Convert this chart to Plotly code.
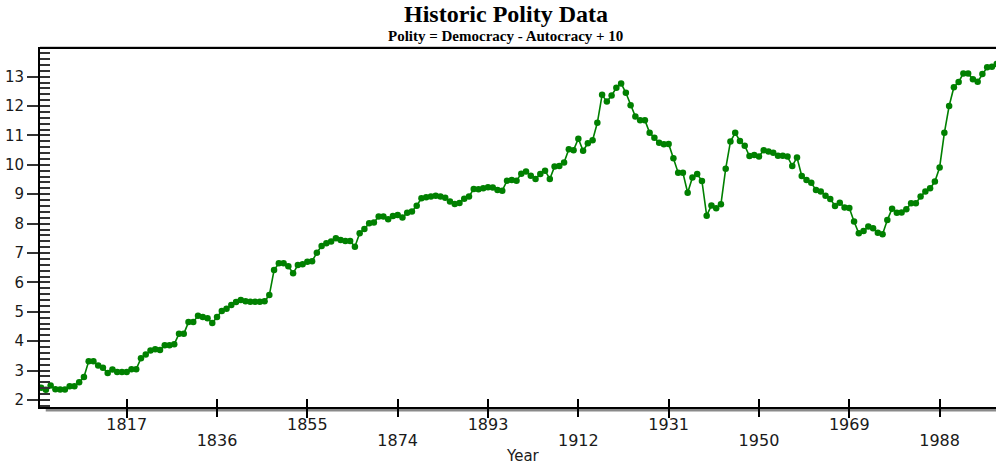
import plotly.graph_objects as go

# Annual polity index (democracy - autocracy + 10), 1799-2000
years = list(range(1799, 2001))
polity = (
    [2.42]
    + [2.35, 2.49, 2.37, 2.36, 2.36, 2.47, 2.47, 2.60, 2.78, 3.32]      # 1800s
    + [3.32, 3.17, 3.10, 2.92, 3.04, 2.95, 2.95, 2.95, 3.05, 3.05]      # 1810s
    + [3.42, 3.55, 3.68, 3.73, 3.70, 3.86, 3.86, 3.90, 4.25, 4.25]      # 1820s
    + [4.65, 4.65, 4.87, 4.82, 4.78, 4.62, 4.82, 5.03, 5.10, 5.23]      # 1830s
    + [5.33, 5.40, 5.36, 5.34, 5.34, 5.34, 5.36, 5.57, 6.42, 6.65]      # 1840s
    + [6.65, 6.55, 6.31, 6.59, 6.62, 6.70, 6.72, 7.01, 7.24, 7.33]      # 1850s
    + [7.39, 7.50, 7.44, 7.41, 7.41, 7.21, 7.67, 7.82, 8.01, 8.04]      # 1860s
    + [8.24, 8.24, 8.15, 8.26, 8.29, 8.21, 8.37, 8.41, 8.61, 8.86]      # 1870s
    + [8.90, 8.92, 8.95, 8.92, 8.88, 8.75, 8.67, 8.70, 8.85, 8.92]      # 1880s
    + [9.18, 9.17, 9.20, 9.24, 9.23, 9.14, 9.12, 9.46, 9.48, 9.46]      # 1890s
    + [9.70, 9.77, 9.63, 9.52, 9.69, 9.80, 9.52, 9.94, 9.96, 10.08]     # 1900s
    + [10.53, 10.50, 10.89, 10.48, 10.73, 10.84, 11.43, 12.38, 12.15, 12.36]  # 1910s
    + [12.62, 12.77, 12.45, 12.03, 11.64, 11.52, 11.52, 11.09, 10.92, 10.75]  # 1920s
    + [10.70, 10.71, 10.22, 9.73, 9.73, 9.05, 9.57, 9.69, 9.45, 8.27]   # 1930s
    + [8.62, 8.52, 8.66, 9.87, 10.79, 11.09, 10.81, 10.65, 10.30, 10.33]  # 1940s
    + [10.28, 10.50, 10.45, 10.41, 10.31, 10.31, 10.28, 9.96, 10.25, 9.62]  # 1950s
    + [9.48, 9.39, 9.14, 9.09, 8.95, 8.84, 8.60, 8.71, 8.55, 8.53]      # 1960s
    + [8.07, 7.67, 7.75, 7.90, 7.84, 7.69, 7.64, 8.12, 8.51, 8.37]      # 1970s
    + [8.38, 8.49, 8.69, 8.69, 8.92, 9.09, 9.20, 9.43, 9.91, 11.09]     # 1980s
    + [12.00, 12.64, 12.82, 13.11, 13.11, 12.91, 12.83, 13.09, 13.32, 13.34]  # 1990s
    + [13.43]
)
assert len(years) == len(polity)

# Year labels, split over two staggered rows
tick_years = [1817, 1836, 1855, 1874, 1893, 1912, 1931, 1950, 1969, 1988]
upper_years = tick_years[0::2]
lower_years = tick_years[1::2]
y_ticks = list(range(2, 14))

X_RANGE = [1798.76, 1999.86]
Y_RANGE = [1.762, 13.94]
GREEN = "#008000"
TEXT_COLOR = "#1a1a1a"
PLOT_H = 465 - 49 - 58  # plot area height in px
XTICK_FONT = dict(family="DejaVu Sans", size=16, color=TEXT_COLOR)

fig = go.Figure()
fig.add_trace(go.Scatter(
    x=years, y=polity, mode="lines+markers",
    line=dict(color=GREEN, width=1.6),
    marker=dict(color=GREEN, size=6.5, line=dict(width=0)),
    showlegend=False, hoverinfo="x+y",
))
# companion traces so the overlay axes (inner ticks, second label row) get drawn
fig.add_trace(go.Scatter(
    x=[years[0]], y=[polity[0]], xaxis="x2", yaxis="y2", mode="markers",
    marker=dict(opacity=0), showlegend=False, hoverinfo="skip",
))
fig.add_trace(go.Scatter(
    x=[years[0]], y=[polity[0]], xaxis="x3", yaxis="y", mode="markers",
    marker=dict(opacity=0), showlegend=False, hoverinfo="skip",
))

fig.update_layout(
    width=996, height=465,
    margin=dict(l=40, r=0, t=49, b=58),
    paper_bgcolor="white", plot_bgcolor="white",
    showlegend=False,
    xaxis=dict(
        range=X_RANGE, showgrid=False, zeroline=False, automargin=False,
        showline=True, linecolor="black", linewidth=2, mirror=True,
        tickmode="array", tickvals=upper_years, ticktext=[str(y) for y in upper_years],
        ticks="outside", ticklen=9, tickwidth=2, tickcolor="black",
        tickfont=XTICK_FONT, ticklabelstandoff=-7,
    ),
    xaxis3=dict(
        overlaying="x", anchor="y", side="bottom", range=X_RANGE, automargin=False,
        showgrid=False, zeroline=False, showline=False,
        tickmode="array", tickvals=lower_years, ticktext=[str(y) for y in lower_years],
        ticks="outside", ticklen=9, tickwidth=2, tickcolor="black",
        tickfont=XTICK_FONT, ticklabelstandoff=10,
    ),
    xaxis2=dict(
        overlaying="x", anchor="y2", side="bottom", range=X_RANGE, automargin=False,
        showgrid=False, zeroline=False, showline=False,
        tickmode="array", tickvals=tick_years, ticks="inside", ticklen=8,
        tickwidth=2, tickcolor="black", showticklabels=False,
    ),
    yaxis=dict(
        range=Y_RANGE, showgrid=False, zeroline=False, automargin=False,
        showline=True, linecolor="black", linewidth=2,
        tickmode="array", tickvals=y_ticks,
        ticks="outside", ticklen=11, tickwidth=2, tickcolor="#333",
        tickfont=dict(family="DejaVu Sans", size=15, color=TEXT_COLOR),
    ),
    yaxis2=dict(
        overlaying="y", anchor="x2", side="left", range=Y_RANGE, automargin=False,
        showgrid=False, zeroline=False, showline=False,
        tickmode="linear", tick0=2, dtick=0.2, ticks="inside", ticklen=10, tickwidth=2,
        tickcolor="#333", showticklabels=False,
    ),
    shapes=[
        # grey shadow under the year axis
        dict(type="line", xref="paper", yref="paper", x0=0.006, x1=1,
             y0=-3 / PLOT_H, y1=-3 / PLOT_H, line=dict(color="#8a8a8a", width=3), layer="below"),
        # thin grey rule above the top frame
        dict(type="line", xref="paper", yref="paper", x0=0, x1=1,
             y0=1 + 2 / PLOT_H, y1=1 + 2 / PLOT_H, line=dict(color="#9a9a9a", width=1), layer="below"),
    ],
    annotations=[
        dict(text="<b>Historic Polity Data</b>", xref="paper", yref="paper",
             x=0.487, y=1 + 35 / PLOT_H, xanchor="center", yanchor="middle", showarrow=False,
             font=dict(family="Liberation Serif", size=24, color="black")),
        dict(text="<b>Polity = Democracy - Autocracy + 10</b>", xref="paper", yref="paper",
             x=0.487, y=1 + 13 / PLOT_H, xanchor="center", yanchor="middle", showarrow=False,
             font=dict(family="Liberation Serif", size=15, color="black")),
        dict(text="Year", xref="paper", yref="paper",
             x=0.505, y=-49 / PLOT_H, xanchor="center", yanchor="middle", showarrow=False,
             font=dict(family="DejaVu Sans", size=15, color=TEXT_COLOR)),
    ],
)

fig.write_html("out.html")
